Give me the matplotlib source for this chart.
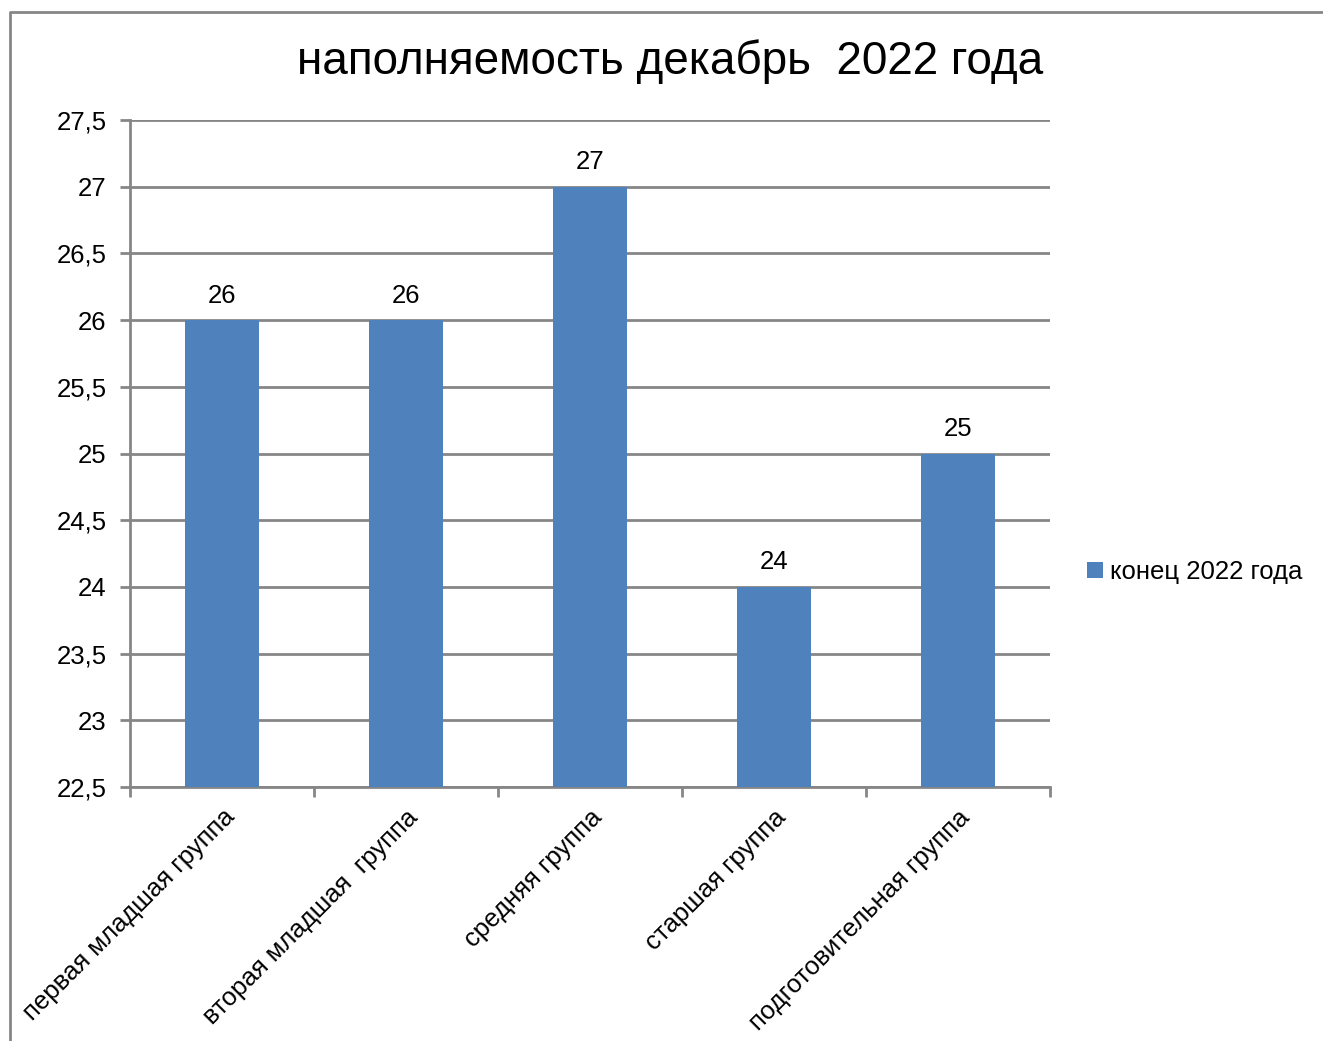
import matplotlib
matplotlib.use("Agg")
import matplotlib.pyplot as plt
import matplotlib.transforms as mtransforms
from matplotlib.lines import Line2D
from matplotlib.patches import Patch

categories = ["первая младшая группа", "вторая младшая  группа", "средняя группа",
              "старшая группа", "подготовительная группа"]
values = [26, 26, 27, 24, 25]
series_name = "конец 2022 года"
title = "наполняемость декабрь  2022 года"
yticks = [22.5, 23, 23.5, 24, 24.5, 25, 25.5, 26, 26.5, 27, 27.5]

plt.rcParams['font.family'] = ['Liberation Sans', 'DejaVu Sans']
W, H = 1323, 1041
fig = plt.figure(figsize=(W / 100, H / 100), dpi=100)
ax = fig.add_axes([130 / W, 1 - 787 / H, (1050 - 130) / W, (787 - 120) / H])

FS = 18.5
x = list(range(len(categories)))
bars = ax.bar(x, values, width=0.4, color="#4F81BD", bottom=0, zorder=3)
ax.set_ylim(22.5, 27.5)
ax.set_xlim(-0.5, len(categories) - 0.5)
ax.set_yticks(yticks)
ax.set_yticklabels([f"{v:g}".replace(".", ",") for v in yticks], fontsize=FS)
ax.yaxis.grid(True, color="#868686", linewidth=2, zorder=0)
ax.set_axisbelow(True)

for b, v in zip(bars, values):
    ax.annotate(f"{v}", (b.get_x() + b.get_width() / 2, v), xytext=(0, 9),
                textcoords="offset points", ha="center", va="bottom", fontsize=FS)

# x ticks at category boundaries
ax.set_xticks([i - 0.5 for i in range(len(categories) + 1)])
ax.set_xticklabels([])
ax.set_xticks(x, minor=True)
ax.set_xticklabels(categories, minor=True, rotation=45, ha="right", va="top",
                   rotation_mode="anchor", fontsize=FS)
shift = mtransforms.ScaledTranslation(-6 / 100, 0, fig.dpi_scale_trans)
for lbl in ax.get_xticklabels(minor=True):
    lbl.set_transform(lbl.get_transform() + shift)
ax.tick_params(axis="x", which="minor", length=0, pad=13)
ax.tick_params(axis="x", which="major", length=7, width=2, color="#868686", direction="out")
ax.tick_params(axis="y", length=7, width=2, color="#868686", direction="out", pad=10)
for s in ["top", "right"]:
    ax.spines[s].set_visible(False)
for s in ["left", "bottom"]:
    ax.spines[s].set_color("#868686")
    ax.spines[s].set_linewidth(2)

fig.text(670 / W, 1 - 62 / H, title, ha="center", va="center", fontsize=33)

leg = fig.legend(handles=[Patch(facecolor="#4F81BD", label=series_name)],
                 loc="center left", bbox_to_anchor=(1064 / W, 1 - 572 / H),
                 frameon=False, fontsize=FS, handlelength=0.6, handleheight=0.6,
                 handletextpad=0.3)

# outer border
fig.add_artist(Line2D([10 / W, 10 / W, 1.0], [0.0, 1 - 12 / H, 1 - 12 / H],
                      transform=fig.transFigure, color="#868686", linewidth=2))

fig.savefig("out.png", dpi=100)
